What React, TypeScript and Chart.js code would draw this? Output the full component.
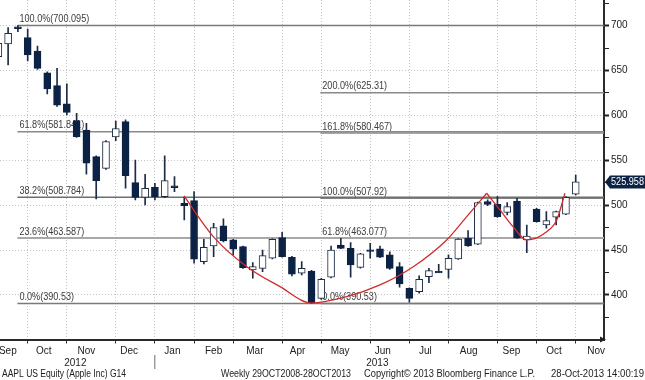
import React, { useEffect, useRef } from 'react';
import { Chart, registerables } from 'chart.js';

Chart.register(...registerables);

// Weekly bars, first bar = week ending Fri 14 Sep 2012, last = week of 1 Nov 2013
const START = Date.UTC(2012, 8, 14);
const DAY = 86400000;

const opens = [
  665.5, 679.6, 698.2, 686.6, 671.8, 647.6, 633.2, 612.8, 594.2, 583.8,
  554.1, 541.0, 576.0, 593.1, 525.1, 508.8, 520.0, 509.5, 521.3, 502.2,
  505.1, 437.1, 454.6, 476.9, 461.3, 453.8, 427.8, 429.7, 440.9, 463.9,
  442.0, 424.2, 426.7, 396.3, 419.7, 455.7, 452.0, 430.8, 449.9, 451.3,
  444.6, 431.5, 407.5, 403.7, 420.4, 425.9, 428.6, 440.1, 463.2, 456.5,
  504.0, 501.0, 492.1, 504.7, 461.3, 495.8, 478.0, 486.6, 489.9, 512.2,
];
const highs = [
  684.0, 697.8, 700.095, 696.3, 677.4, 648.5, 652.5, 635.1, 602.4, 591.3,
  555.0, 572.0, 593.8, 595.0, 550.4, 534.5, 524.4, 554.9, 531.8, 508.8,
  515.1, 462.1, 479.9, 484.7, 462.0, 454.5, 436.0, 450.1, 462.5, 469.9,
  443.0, 437.1, 427.5, 418.5, 454.6, 463.0, 458.3, 446.5, 457.6, 454.6,
  448.2, 436.0, 408.0, 421.2, 429.7, 434.0, 444.6, 462.8, 471.6, 503.5,
  506.0, 509.5, 502.8, 507.7, 478.0, 496.5, 492.8, 493.5, 509.5, 533.7,
];
const lows = [
  660.0, 656.2, 693.3, 660.7, 651.4, 624.0, 610.0, 600.5, 575.5, 534.5,
  506.9, 540.0, 571.9, 518.9, 505.8, 500.3, 505.8, 508.5, 515.1, 483.6,
  435.3, 434.5, 442.7, 459.0, 444.6, 429.5, 418.6, 425.9, 440.3, 442.0,
  421.2, 422.3, 390.53, 395.0, 419.0, 451.5, 419.7, 430.0, 440.9, 441.5,
  428.6, 408.6, 392.0, 401.9, 413.7, 424.9, 418.6, 439.5, 454.0, 456.0,
  499.5, 486.5, 489.1, 463.0, 447.1, 481.0, 474.3, 478.0, 489.5, 511.5,
];
const closes = [
  680.4, 691.5, 697.2, 667.4, 652.5, 629.5, 611.5, 603.5, 576.4, 546.7,
  527.3, 571.0, 585.5, 532.9, 508.8, 518.9, 509.5, 527.3, 519.8, 499.5,
  439.8, 453.2, 475.0, 460.2, 450.9, 430.4, 431.5, 443.8, 462.1, 442.7,
  423.1, 429.7, 391.4, 417.5, 450.1, 452.0, 433.4, 445.7, 448.9, 442.0,
  429.7, 412.3, 396.3, 417.5, 427.1, 424.9, 440.9, 462.4, 454.6, 502.8,
  501.0, 487.2, 498.4, 463.2, 465.7, 481.6, 482.8, 492.8, 508.8, 525.958,
];

// Fibonacci retracement (A) and extension (B) levels
const fibNamesA = ['100.0%', '61.8%', '38.2%', '23.6%', '0.0%'];
const fibLevelsA = [700.095, 581.841, 508.784, 463.587, 390.53];
const fibNamesB = ['200.0%', '161.8%', '100.0%', '61.8%', '0.0%'];
const fibLevelsB = [625.31, 580.467, 507.92, 463.077, 390.53];
const fibStartA = 1.95; // week index
const fibStartB = 32.9;

// Hand-drawn red arcs (week index, price)
const arc1X = [18.97, 21.97, 25.39, 28.79, 32.01, 35.6, 39.0, 42.4, 45.81, 47.86, 49.9];
const arc1Y = [510.3, 465.0, 431.5, 409.3, 391.0, 398.1, 411.2, 431.5, 461.3, 487.2, 513.3];
const arc2X = [49.9, 51.26, 52.59, 53.99, 56.03, 57.06, 57.9];
const arc2Y = [513.3, 494.7, 476.1, 461.3, 470.5, 483.6, 513.3];

const monthLabels = ['Sep', 'Oct', 'Nov', 'Dec', 'Jan', 'Feb', 'Mar', 'Apr', 'May', 'Jun', 'Jul', 'Aug', 'Sep', 'Oct', 'Nov'];
const yearLabels = ['2012', '2013'];
const yTickValues = [375, 400, 425, 450, 475, 500, 525, 550, 575, 600, 625, 650, 675, 700, 725];
const lastPrice = 525.958;
const footerTexts = [
  'AAPL US Equity (Apple Inc) G14',
  'Weekly 29OCT2008-28OCT2013',
  'Copyright\u00A9 2013 Bloomberg Finance L.P.',
  '28-Oct-2013 14:00:19',
];

const X_MIN = 0.17;
const X_MAX = 61.89;
const Y_MIN = 350.4;
const Y_MAX = 728.6;

const FONT = '"Liberation Sans", Arial, sans-serif';
const NAVY = '#0c2244';
const OUTLINE = '#1d2c44';

const toIndex = (t: number) => (t - START) / (7 * DAY);
const weekIdx = opens.map((_, i) => i);
const gridWeeks = weekIdx.filter((i) => new Date(START + i * 7 * DAY).getUTCDate() <= 7);
const monthTicks = monthLabels.map((label, k) => {
  const y = 2012 + Math.floor((8 + k) / 12);
  const m = (8 + k) % 12;
  const mid = (Date.UTC(y, m, 1) + Date.UTC(y, m + 1, 1)) / 2;
  const v = Math.min(Math.max(toIndex(mid), X_MIN + 0.8), X_MAX - 0.8);
  return { value: v, label };
});
const jan2013 = toIndex(Date.UTC(2013, 0, 1));
const yearCenters = [(X_MIN + jan2013) / 2, (jan2013 + X_MAX) / 2];

const zeroPad = (s: any) => {
  s.paddingLeft = 0;
  s.paddingRight = 0;
  s.paddingTop = 0;
  s.paddingBottom = 0;
};

const fillNarrow = (ctx: CanvasRenderingContext2D, t: string, x: number, y: number, k = 0.91) => {
  const w = ctx.measureText(t).width;
  ctx.fillText(t, x, y, w * k);
};

const overlay = {
  id: 'overlay',
  beforeDatasetsDraw(chart: any) {
    const { ctx } = chart;
    const x = chart.scales.x;
    const y = chart.scales.y;
    ctx.save();
    ctx.font = '10px ' + FONT;
    ctx.fillStyle = '#3c3c3c';
    ctx.textAlign = 'left';
    ctx.textBaseline = 'bottom';
    fibLevelsA.forEach((lv, k) => {
      fillNarrow(ctx, `${fibNamesA[k]}(${lv})`, x.getPixelForValue(fibStartA) + 2, y.getPixelForValue(lv) - 1);
    });
    fibLevelsB.forEach((lv, k) => {
      fillNarrow(ctx, `${fibNamesB[k]}(${lv})`, x.getPixelForValue(fibStartB) + 2, y.getPixelForValue(lv) - 1);
    });
    ctx.restore();
  },
  afterDraw(chart: any) {
    const { ctx, chartArea } = chart;
    const x = chart.scales.x;
    const y = chart.scales.y;
    ctx.save();
    // x axis arrow head
    ctx.fillStyle = '#222';
    ctx.beginPath();
    ctx.moveTo(chartArea.right + 2, chartArea.bottom);
    ctx.lineTo(chartArea.right - 4, chartArea.bottom - 3);
    ctx.lineTo(chartArea.right - 4, chartArea.bottom + 3);
    ctx.closePath();
    ctx.fill();

    // year labels
    ctx.font = '10px ' + FONT;
    ctx.fillStyle = '#222';
    ctx.textAlign = 'center';
    ctx.textBaseline = 'middle';
    yearLabels.forEach((t, k) => ctx.fillText(t, x.getPixelForValue(yearCenters[k]), 363));
    // year separator
    const sx = x.getPixelForValue(jan2013) + 4;
    ctx.strokeStyle = '#9a9a9a';
    ctx.lineWidth = 1.5;
    ctx.beginPath();
    ctx.moveTo(sx, 355);
    ctx.lineTo(sx, 369);
    ctx.stroke();

    // footer
    ctx.textAlign = 'left';
    ctx.fillStyle = '#222';
    const fx = [2, 221, 364, 551];
    const fw = [124, 130, 171, 93];
    footerTexts.forEach((t, k) => ctx.fillText(t, fx[k], 374.5, fw[k]));

    // last price tag
    const py = y.getPixelForValue(lastPrice);
    const left = chartArea.right + 1;
    ctx.fillStyle = NAVY;
    ctx.beginPath();
    ctx.moveTo(left, py);
    ctx.lineTo(left + 5, py - 6.5);
    ctx.lineTo(645, py - 6.5);
    ctx.lineTo(645, py + 6.5);
    ctx.lineTo(left + 5, py + 6.5);
    ctx.closePath();
    ctx.fill();
    ctx.fillStyle = '#ffffff';
    ctx.textAlign = 'left';
    ctx.fillText(String(lastPrice), left + 6, py + 0.5, 33);
    ctx.restore();
  },
};

export default function App() {
  const ref = useRef<HTMLCanvasElement | null>(null);

  useEffect(() => {
    if (!ref.current) return;
    const up = opens.map((o, i) => closes[i] >= o);
    const fibLine = (start: number, level: number, color: string, width: number) => ({
      type: 'line' as const,
      data: [
        { x: start, y: level },
        { x: X_MAX, y: level },
      ],
      borderColor: color,
      borderWidth: width,
      pointRadius: 0,
      fill: false,
      order: 10,
    });
    const fibColorsA = ['#7a7a7a', '#8a8a8a', '#6e6e6e', '#a8a8a8', '#7a7a7a'];
    const fibWidthsA = [1.5, 1.5, 1.5, 2, 1.5];
    const fibColorsB = ['#8a8a8a', '#8a8a8a', '#5a5a5a', '#333333', '#7a7a7a'];
    const fibWidthsB = [1.5, 1.5, 1.5, 1.2, 1.5];

    const chart = new Chart(ref.current, {
      type: 'bar',
      data: {
        datasets: [
          ...fibLevelsA.map((lv, k) => fibLine(fibStartA, lv, fibColorsA[k], fibWidthsA[k])),
          ...fibLevelsB.map((lv, k) => fibLine(fibStartB, lv, fibColorsB[k], fibWidthsB[k])),
          {
            type: 'bar' as const,
            data: weekIdx.map((i) => ({ x: i, y: [lows[i], highs[i]] })),
            backgroundColor: OUTLINE,
            barThickness: 1,
            grouped: false,
            order: 5,
          } as any,
          {
            type: 'bar' as const,
            data: weekIdx.map((i) => {
              let a = opens[i];
              let b = closes[i];
              if (Math.abs(a - b) < 1.6) {
                const m = (a + b) / 2;
                a = m - 0.9;
                b = m + 0.9;
              }
              return { x: i, y: [a, b] };
            }),
            backgroundColor: up.map((u) => (u ? '#ffffff' : NAVY)),
            borderColor: up.map((u) => (u ? OUTLINE : NAVY)),
            borderWidth: 1,
            borderSkipped: false,
            barThickness: 7,
            grouped: false,
            order: 4,
          } as any,
          {
            type: 'line' as const,
            data: arc1X.map((v, k) => ({ x: v, y: arc1Y[k] })),
            borderColor: '#d42a2a',
            borderWidth: 1.3,
            pointRadius: 0,
            cubicInterpolationMode: 'monotone',
            fill: false,
            order: 1,
          },
          {
            type: 'line' as const,
            data: arc2X.map((v, k) => ({ x: v, y: arc2Y[k] })),
            borderColor: '#d42a2a',
            borderWidth: 1.3,
            pointRadius: 0,
            cubicInterpolationMode: 'monotone',
            fill: false,
            order: 1,
          },
        ] as any,
      },
      options: {
        animation: false,
        responsive: false,
        events: [],
        layout: { padding: 0, autoPadding: false },
        plugins: { legend: { display: false }, tooltip: { enabled: false } },
        scales: {
          x: {
            type: 'linear',
            position: 'bottom',
            min: X_MIN,
            max: X_MAX,
            offset: false,
            weight: 0,
            afterBuildTicks: (s: any) => {
              s.ticks = gridWeeks.map((v) => ({ value: v }));
            },
            afterFit: (s: any) => {
              s.height = 5;
              zeroPad(s);
            },
            ticks: { display: false },
            grid: {
              offset: false,
              color: '#c4c4c4',
              lineWidth: 1,
              drawTicks: true,
              tickLength: 4,
              tickColor: '#333',
              tickWidth: 1,
              tickBorderDash: [],
            },
            border: { display: true, color: '#2a2a2a', width: 2, dash: [1, 2] },
          },
          xm: {
            type: 'linear',
            position: 'bottom',
            min: X_MIN,
            max: X_MAX,
            offset: false,
            weight: 1,
            afterBuildTicks: (s: any) => {
              s.ticks = monthTicks.map((t) => ({ value: t.value }));
            },
            afterFit: (s: any) => {
              s.height = 35.5;
              zeroPad(s);
            },
            ticks: {
              autoSkip: false,
              maxRotation: 0,
              padding: 1,
              color: '#222',
              font: { size: 10, family: FONT },
              callback: (_v: any, idx: number) => monthTicks[idx]?.label ?? '',
            },
            grid: { display: false, drawTicks: false, offset: false },
            border: { display: false },
          },
          y: {
            type: 'linear',
            position: 'right',
            min: Y_MIN,
            max: Y_MAX,
            afterBuildTicks: (s: any) => {
              s.ticks = yTickValues.map((v) => ({ value: v }));
            },
            afterFit: (s: any) => {
              s.width = 41;
              zeroPad(s);
            },
            ticks: {
              padding: 2,
              color: '#222',
              font: { size: 10, family: FONT },
              callback: (v: any) => (Number(v) % 50 === 0 ? String(v) : ''),
            },
            grid: {
              color: (c: any) => (c.tick && c.tick.value % 50 === 0 ? '#c4c4c4' : 'rgba(0,0,0,0)'),
              lineWidth: 1,
              drawTicks: true,
              tickLength: 5,
              tickColor: '#222',
              tickWidth: (c: any) => (c.tick && c.tick.value % 50 === 0 ? 2 : 1),
              tickBorderDash: [],
            },
            border: { display: true, color: '#2a2a2a', width: 2, dash: [1, 2] },
          },
        },
      } as any,
      plugins: [overlay],
    });
    return () => chart.destroy();
  }, []);

  return (
    <div style={{ position: 'absolute', left: 0, top: 0, width: 645, height: 380, background: '#fff' }}>
      <canvas ref={ref} width={645} height={380} style={{ display: 'block' }} />
    </div>
  );
}
